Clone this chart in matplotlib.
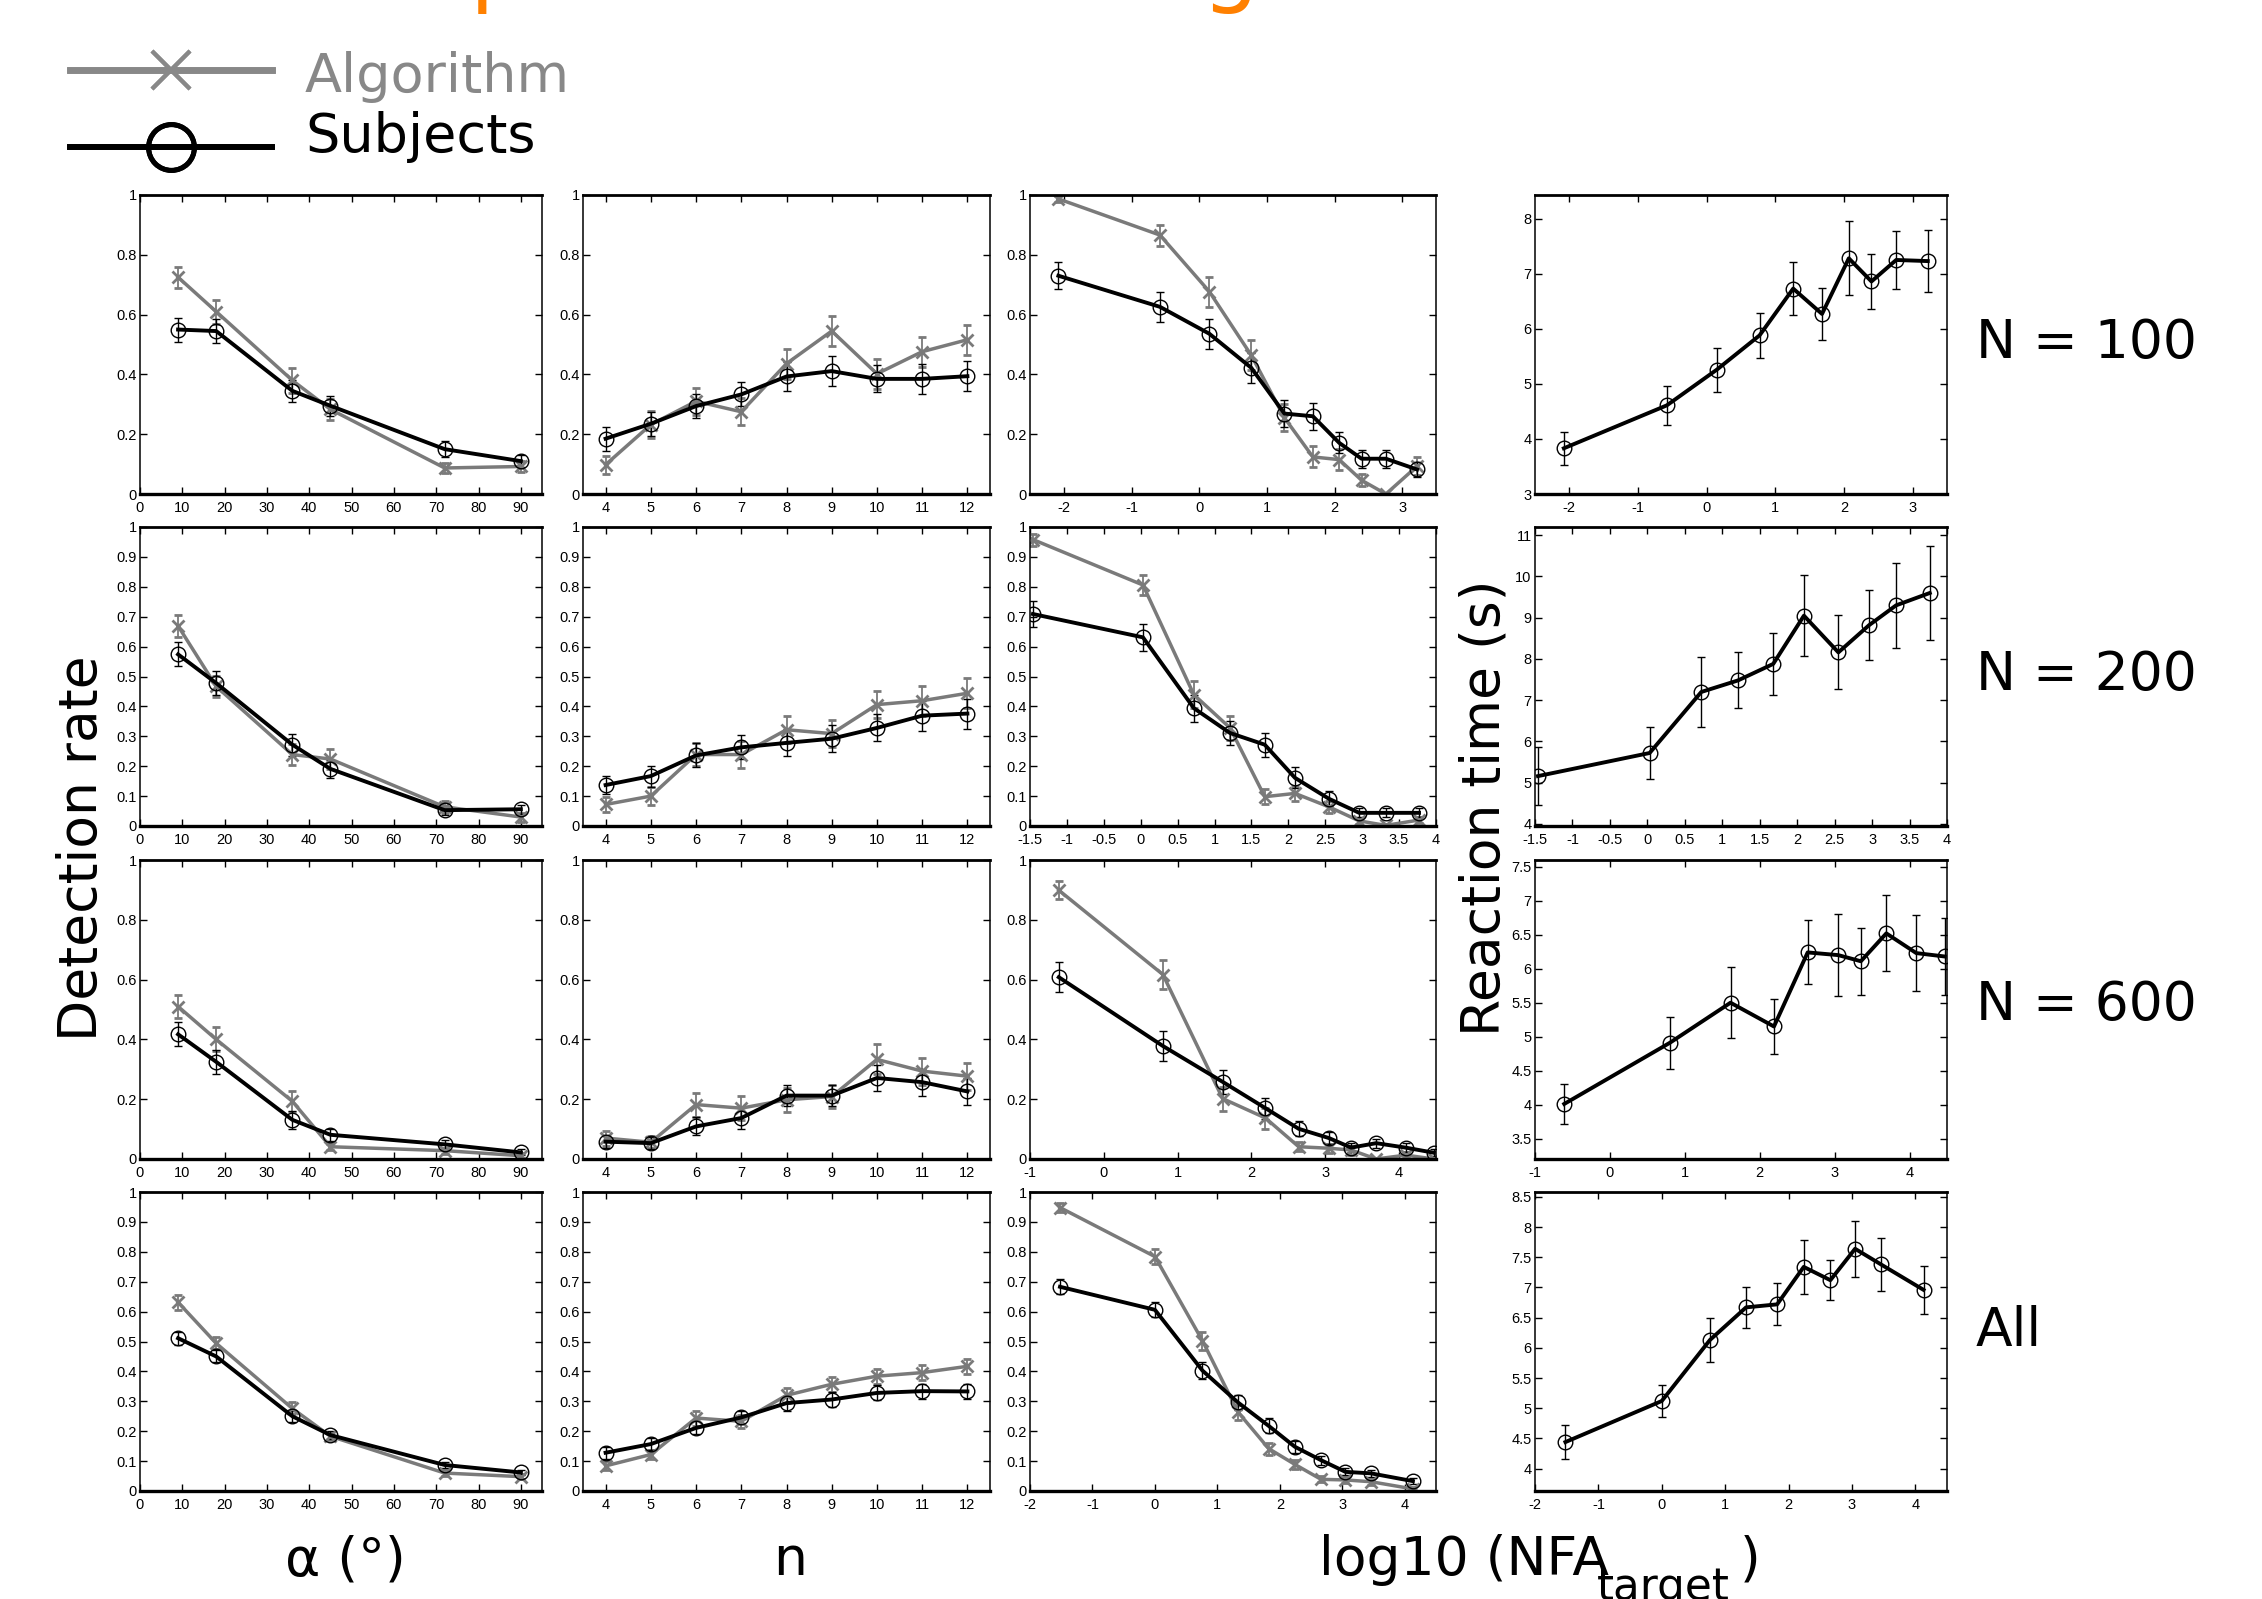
import numpy as np
import matplotlib
matplotlib.use('Agg')
import matplotlib.pyplot as plt
from matplotlib.lines import Line2D
from matplotlib.ticker import FormatStrFormatter

plt.rcParams['font.family'] = ['Liberation Sans', 'DejaVu Sans']

W, H = 2262, 1599
gray = '#7a7a7a'
big = 38.5   # slide text size

# x values shared by all rows
alpha = [9, 18, 36, 45, 72, 90]
n_vals = [4, 5, 6, 7, 8, 9, 10, 11, 12]

# ---- N = 100
subj_alpha_100 = [0.55, 0.545, 0.345, 0.295, 0.15, 0.11]
subj_alpha_err_100 = [0.04, 0.04, 0.037, 0.033, 0.027, 0.02]
algo_alpha_100 = [0.725, 0.61, 0.38, 0.283, 0.087, 0.092]
algo_alpha_err_100 = [0.035, 0.04, 0.042, 0.035, 0.018, 0.02]
subj_n_100 = [0.185, 0.235, 0.294, 0.333, 0.393, 0.411, 0.385, 0.385, 0.394]
subj_n_err_100 = [0.04, 0.04, 0.04, 0.04, 0.05, 0.05, 0.045, 0.05, 0.05]
algo_n_100 = [0.098, 0.232, 0.31, 0.275, 0.436, 0.545, 0.402, 0.476, 0.516]
algo_n_err_100 = [0.03, 0.045, 0.045, 0.045, 0.05, 0.05, 0.05, 0.05, 0.05]
nfa_100 = [-2.08, -0.58, 0.15, 0.77, 1.26, 1.68, 2.07, 2.4, 2.76, 3.22]
subj_nfa_100 = [0.73, 0.626, 0.536, 0.422, 0.269, 0.26, 0.171, 0.118, 0.118, 0.082]
subj_nfa_err_100 = [0.045, 0.05, 0.05, 0.05, 0.045, 0.045, 0.035, 0.03, 0.03, 0.025]
algo_nfa_100 = [0.987, 0.866, 0.677, 0.464, 0.255, 0.124, 0.115, 0.046, 0.0, 0.093]
algo_nfa_err_100 = [0.01, 0.035, 0.05, 0.05, 0.045, 0.035, 0.035, 0.02, 0.0, 0.03]
rt_100 = [3.83, 4.61, 5.26, 5.88, 6.73, 6.27, 7.28, 6.86, 7.25, 7.23]
rt_err_100 = [0.3, 0.35, 0.4, 0.41, 0.48, 0.47, 0.67, 0.5, 0.52, 0.56]

# ---- N = 200
subj_alpha_200 = [0.574, 0.478, 0.272, 0.191, 0.053, 0.056]
subj_alpha_err_200 = [0.04, 0.04, 0.037, 0.03, 0.015, 0.015]
algo_alpha_200 = [0.669, 0.467, 0.239, 0.224, 0.064, 0.03]
algo_alpha_err_200 = [0.037, 0.035, 0.035, 0.035, 0.02, 0.015]
subj_n_200 = [0.137, 0.167, 0.236, 0.263, 0.278, 0.292, 0.328, 0.369, 0.376]
subj_n_err_200 = [0.03, 0.035, 0.04, 0.04, 0.045, 0.045, 0.045, 0.05, 0.05]
algo_n_200 = [0.072, 0.1, 0.239, 0.239, 0.322, 0.309, 0.406, 0.419, 0.444]
algo_n_err_200 = [0.025, 0.03, 0.04, 0.045, 0.045, 0.045, 0.045, 0.05, 0.05]
nfa_200 = [-1.46, 0.03, 0.72, 1.21, 1.68, 2.09, 2.55, 2.96, 3.32, 3.77]
subj_nfa_200 = [0.709, 0.631, 0.394, 0.311, 0.272, 0.161, 0.091, 0.044, 0.044, 0.044]
subj_nfa_err_200 = [0.045, 0.045, 0.045, 0.04, 0.04, 0.035, 0.025, 0.015, 0.015, 0.015]
algo_nfa_200 = [0.958, 0.806, 0.439, 0.328, 0.098, 0.109, 0.064, 0.017, 0.002, 0.02]
algo_nfa_err_200 = [0.02, 0.035, 0.045, 0.04, 0.025, 0.025, 0.02, 0.01, 0.005, 0.01]
rt_200 = [5.16, 5.72, 7.2, 7.48, 7.88, 9.05, 8.16, 8.82, 9.3, 9.6]
rt_err_200 = [0.71, 0.62, 0.85, 0.68, 0.76, 0.99, 0.9, 0.85, 1.03, 1.13]

# ---- N = 600
subj_alpha_600 = [0.417, 0.325, 0.131, 0.081, 0.049, 0.022]
subj_alpha_err_600 = [0.04, 0.04, 0.03, 0.02, 0.015, 0.01]
algo_alpha_600 = [0.51, 0.4, 0.193, 0.041, 0.028, 0.011]
algo_alpha_err_600 = [0.04, 0.04, 0.035, 0.01, 0.01, 0.008]
subj_n_600 = [0.058, 0.053, 0.109, 0.137, 0.212, 0.212, 0.271, 0.257, 0.226]
subj_n_err_600 = [0.02, 0.02, 0.03, 0.035, 0.035, 0.035, 0.045, 0.045, 0.045]
algo_n_600 = [0.07, 0.056, 0.182, 0.17, 0.198, 0.209, 0.333, 0.294, 0.277]
algo_n_err_600 = [0.025, 0.02, 0.04, 0.04, 0.04, 0.04, 0.05, 0.045, 0.045]
nfa_600 = [-0.61, 0.8, 1.61, 2.19, 2.64, 3.05, 3.35, 3.69, 4.09, 4.47]
subj_nfa_600 = [0.608, 0.378, 0.258, 0.17, 0.101, 0.07, 0.038, 0.053, 0.038, 0.021]
subj_nfa_err_600 = [0.05, 0.05, 0.04, 0.035, 0.025, 0.02, 0.015, 0.015, 0.015, 0.012]
algo_nfa_600 = [0.899, 0.617, 0.202, 0.137, 0.041, 0.036, 0.03, 0.0, 0.013, 0.0]
algo_nfa_err_600 = [0.03, 0.05, 0.04, 0.035, 0.015, 0.015, 0.015, 0.0, 0.01, 0.0]
rt_600 = [4.01, 4.91, 5.5, 5.15, 6.24, 6.2, 6.11, 6.52, 6.23, 6.18]
rt_err_600 = [0.29, 0.38, 0.52, 0.41, 0.47, 0.6, 0.49, 0.56, 0.56, 0.56]

# ---- All
subj_alpha_all = [0.511, 0.45, 0.25, 0.187, 0.087, 0.062]
subj_alpha_err_all = [0.022, 0.02, 0.018, 0.012, 0.01, 0.008]
algo_alpha_all = [0.631, 0.494, 0.276, 0.183, 0.06, 0.048]
algo_alpha_err_all = [0.025, 0.02, 0.02, 0.012, 0.01, 0.008]
subj_n_all = [0.128, 0.157, 0.211, 0.246, 0.294, 0.306, 0.328, 0.334, 0.333]
subj_n_err_all = [0.02, 0.02, 0.022, 0.022, 0.025, 0.025, 0.025, 0.025, 0.025]
algo_n_all = [0.084, 0.122, 0.244, 0.233, 0.32, 0.357, 0.384, 0.396, 0.417]
algo_n_err_all = [0.015, 0.015, 0.025, 0.022, 0.025, 0.025, 0.025, 0.025, 0.025]
nfa_all = [-1.52, 0.0, 0.76, 1.33, 1.82, 2.24, 2.66, 3.05, 3.46, 4.13]
subj_nfa_all = [0.683, 0.606, 0.403, 0.296, 0.218, 0.148, 0.103, 0.064, 0.059, 0.033]
subj_nfa_err_all = [0.025, 0.025, 0.03, 0.025, 0.025, 0.02, 0.015, 0.012, 0.012, 0.01]
algo_nfa_all = [0.948, 0.784, 0.503, 0.264, 0.142, 0.089, 0.039, 0.037, 0.031, 0.007]
algo_nfa_err_all = [0.015, 0.025, 0.03, 0.025, 0.02, 0.015, 0.01, 0.01, 0.01, 0.005]
rt_all = [4.44, 5.12, 6.13, 6.67, 6.72, 7.34, 7.12, 7.64, 7.38, 6.96]
rt_err_all = [0.28, 0.27, 0.36, 0.34, 0.35, 0.45, 0.33, 0.46, 0.44, 0.4]

row_labels = ['N = 100', 'N = 200', 'N = 600', 'All']

# axis settings per row
det_ystep = [0.2, 0.1, 0.2, 0.1]
nfa_lims = [(-2.5, 3.5), (-1.5, 4.0), (-1.0, 4.5), (-2.0, 4.5)]
nfa_ticks = [np.arange(-2, 3.5, 1), np.arange(-1.5, 4.01, 0.5),
             np.arange(-1, 4.5, 1), np.arange(-2, 4.5, 1)]
rt_lims = [(3.0, 8.43), (3.95, 11.2), (3.2, 7.6), (3.63, 8.58)]
rt_ticks = [np.arange(3, 8.01, 1), np.arange(4, 11.01, 1),
            np.arange(3.5, 7.51, 0.5), np.arange(4, 8.51, 0.5)]

rows = [
    (subj_alpha_100, subj_alpha_err_100, algo_alpha_100, algo_alpha_err_100,
     subj_n_100, subj_n_err_100, algo_n_100, algo_n_err_100,
     nfa_100, subj_nfa_100, subj_nfa_err_100, algo_nfa_100, algo_nfa_err_100,
     rt_100, rt_err_100),
    (subj_alpha_200, subj_alpha_err_200, algo_alpha_200, algo_alpha_err_200,
     subj_n_200, subj_n_err_200, algo_n_200, algo_n_err_200,
     nfa_200, subj_nfa_200, subj_nfa_err_200, algo_nfa_200, algo_nfa_err_200,
     rt_200, rt_err_200),
    (subj_alpha_600, subj_alpha_err_600, algo_alpha_600, algo_alpha_err_600,
     subj_n_600, subj_n_err_600, algo_n_600, algo_n_err_600,
     nfa_600, subj_nfa_600, subj_nfa_err_600, algo_nfa_600, algo_nfa_err_600,
     rt_600, rt_err_600),
    (subj_alpha_all, subj_alpha_err_all, algo_alpha_all, algo_alpha_err_all,
     subj_n_all, subj_n_err_all, algo_n_all, algo_n_err_all,
     nfa_all, subj_nfa_all, subj_nfa_err_all, algo_nfa_all, algo_nfa_err_all,
     rt_all, rt_err_all),
]

# panel boxes in pixels
col_left = [140, 583, 1030, 1535]
col_width = [402, 407, 406, 412]
row_top = [195, 527, 860, 1192]
row_height = 299

fig = plt.figure(figsize=(W / 100, H / 100), dpi=100)


def style_axes(ax):
    ax.tick_params(direction='in', top=True, right=True, length=5, width=1,
                   labelsize=10.5)
    ax.tick_params(axis='x', pad=5)
    ax.tick_params(axis='y', pad=2.5)
    ax.spines['bottom'].set_linewidth(2.4)
    ax.spines['top'].set_linewidth(2.0)
    ax.spines['left'].set_linewidth(1.1)
    ax.spines['right'].set_linewidth(1.1)
    ax.xaxis.set_major_formatter(FormatStrFormatter('%g'))
    ax.yaxis.set_major_formatter(FormatStrFormatter('%g'))


def draw_pair(ax, x, subj, subj_err, algo, algo_err):
    ax.errorbar(x, algo, yerr=algo_err, color=gray, lw=2.5, marker='x', ms=9,
                mew=2, elinewidth=1.3, capsize=3, capthick=1.5)
    ax.errorbar(x, subj, yerr=subj_err, color='k', lw=2.8, marker='o', ms=10.5,
                mfc='none', mew=1, elinewidth=1, capsize=3, capthick=1)


for r, data in enumerate(rows):
    (sa, sae, aa, aae, sn, sne, an, ane, nfa, snf, snfe, anf, anfe, rt, rte) = data
    axs = []
    for c in range(4):
        ax = fig.add_axes([col_left[c] / W, 1 - (row_top[r] + row_height) / H,
                           col_width[c] / W, row_height / H])
        style_axes(ax)
        axs.append(ax)

    # alpha
    draw_pair(axs[0], alpha, sa, sae, aa, aae)
    axs[0].set_xlim(0, 95)
    axs[0].set_xticks(np.arange(0, 91, 10))

    # n
    draw_pair(axs[1], n_vals, sn, sne, an, ane)
    axs[1].set_xlim(3.5, 12.5)
    axs[1].set_xticks(n_vals)

    # NFA
    draw_pair(axs[2], nfa, snf, snfe, anf, anfe)
    axs[2].set_xlim(*nfa_lims[r])
    axs[2].set_xticks(nfa_ticks[r])

    for ax in axs[:3]:
        ax.set_ylim(0, 1)
        ax.set_yticks(np.arange(0, 1.001, det_ystep[r]))

    # reaction time
    axs[3].errorbar(nfa, rt, yerr=rte, color='k', lw=2.8, marker='o', ms=10.5,
                    mfc='none', mew=1, elinewidth=1, capsize=3, capthick=1)
    axs[3].set_xlim(*nfa_lims[r])
    axs[3].set_xticks(nfa_ticks[r])
    axs[3].set_ylim(*rt_lims[r])
    axs[3].set_yticks(rt_ticks[r])

    fig.text(1976 / W, 1 - [358, 690, 1020, 1346][r] / H, row_labels[r],
             fontsize=big, family='DejaVu Sans', va='baseline', ha='left')

# axis titles
fig.text(82 / W, 1 - 848 / H, 'Detection rate', fontsize=big, rotation=90,
         family='DejaVu Sans', ha='center', va='center')
fig.text(1484 / W, 1 - 808 / H, 'Reaction time (s)', fontsize=big, rotation=90,
         family='DejaVu Sans', ha='center', va='center')
fig.text(345 / W, 1 - 1575 / H, 'α (°)', fontsize=big, family='DejaVu Sans',
         ha='center', va='baseline')
fig.text(790 / W, 1 - 1575 / H, 'n', fontsize=big, family='DejaVu Sans',
         ha='center', va='baseline')
fig.text(1319 / W, 1 - 1575 / H, 'log10 (NFA', fontsize=big,
         family='DejaVu Sans', ha='left', va='baseline')
fig.text(1597 / W, 1 - 1600 / H, 'target', fontsize=31.5,
         family='DejaVu Sans', ha='left', va='baseline')
fig.text(1740 / W, 1 - 1575 / H, ')', fontsize=big,
         family='DejaVu Sans', ha='left', va='baseline')

# legend: line samples through the legend machinery, labels as slide text
leg_gray = '#888888'
h_algo = Line2D([], [], color=leg_gray, lw=4.8, marker='x', ms=27, mew=3)
h_subj = Line2D([], [], color='k', lw=4.2, marker='o', ms=33, mfc='none', mew=3.6)
for h, ypix in [(h_algo, 75), (h_subj, 152)]:
    leg = fig.legend([h], [''], loc='center left',
                     bbox_to_anchor=(70 / W, 1 - ypix / H), frameon=False,
                     fontsize=39, handlelength=3.73, handletextpad=0,
                     borderpad=0, borderaxespad=0)
    fig.add_artist(leg)
fig.text(305 / W, 1 - 92 / H, 'Algorithm', color=leg_gray, fontsize=39,
         family='DejaVu Sans', va='baseline', ha='left')
fig.text(305 / W, 1 - 152 / H, 'Subjects', color='k', fontsize=39,
         family='DejaVu Sans', va='baseline', ha='left')

# orange title, cut off at the top edge of the slide
for xpix, ch in [(-49, 'g'), (470, 'p'), (1202, 'g')]:
    fig.text(xpix / W, 1 + 5 / H, ch, color='#ff8000', fontsize=65,
             family='DejaVu Sans', va='baseline', ha='left')

fig.savefig('out.png', dpi=100)
